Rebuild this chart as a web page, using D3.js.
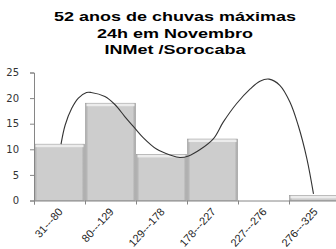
<!DOCTYPE html>
<html>
<head>
<meta charset="utf-8">
<script src="https://cdn.jsdelivr.net/npm/d3@7"></script>
<style>
  body { margin: 0; background: #fff; }
  svg { display: block; }
</style>
</head>
<body>
<div id="chart"></div>
<script>
var width = 336;
var height = 249;

// classes (mm) and frequencies
var categories = ["31---80", "80---129", "129---178", "178---227", "227---276", "276---325"];
var counts = [11, 19, 9, 12, 0, 1];
var yTicks = [0, 5, 10, 15, 20, 25];
var titleLines = ["52 anos de chuvas máximas", "24h em Novembro", "INMet /Sorocaba"];

// smooth curve: position in class units, value
var curveX = [0.53, 0.61, 0.74, 0.87, 1.03, 1.12, 1.39, 1.59, 1.78, 1.98, 2.14, 2.41, 2.67, 2.86, 3.03, 3.25, 3.52, 3.71, 3.97, 4.24, 4.43, 4.61, 4.82, 5.02, 5.18, 5.35, 5.48];
var curveY = [11.0, 14.7, 18.0, 20.0, 21.1, 21.1, 20.3, 18.7, 16.4, 14.1, 12.3, 10.0, 8.9, 8.4, 8.7, 9.9, 12.1, 15.3, 18.9, 21.8, 23.3, 23.7, 22.5, 19.2, 14.7, 8.2, 1.3];

var margin = {top: 72.5, left: 34, right: -4, bottom: 48.5};
var plotW = width - margin.left - margin.right;
var plotH = height - margin.top - margin.bottom;

var svg = d3.select("#chart").append("svg")
  .attr("width", width)
  .attr("height", height);

var defs = svg.append("defs");
var grad = defs.append("linearGradient").attr("id", "barGrad")
  .attr("x1", "0%").attr("x2", "100%").attr("y1", "0%").attr("y2", "0%");
grad.append("stop").attr("offset", "0%").attr("stop-color", "#a9a9a9");
grad.append("stop").attr("offset", "6%").attr("stop-color", "#cdcdcd");
grad.append("stop").attr("offset", "94%").attr("stop-color", "#cdcdcd");
grad.append("stop").attr("offset", "100%").attr("stop-color", "#a4a4a4");

// title (the source picture is stretched sideways)
var title = svg.append("g")
  .attr("transform", "translate(175,0) scale(1.5,1)");
title.selectAll("text")
  .data(titleLines)
  .enter().append("text")
  .attr("x", 0)
  .attr("y", function(d, i) { return 21.5 + i * 16.4; })
  .attr("text-anchor", "middle")
  .style("font-family", "'Liberation Sans', Arial, sans-serif")
  .style("font-weight", "bold")
  .style("font-size", "12px")
  .attr("fill", "#000")
  .text(function(d) { return d; });

var g = svg.append("g")
  .attr("transform", "translate(" + margin.left + "," + margin.top + ")");

var x = d3.scaleBand()
  .domain(categories)
  .range([0, plotW])
  .padding(0);

var xLin = d3.scaleLinear()
  .domain([0, categories.length])
  .range([0, plotW]);

var y = d3.scaleLinear()
  .domain([0, 25])
  .range([plotH, 0]);

// bars
var bars = g.selectAll(".bar")
  .data(counts)
  .enter().append("g")
  .attr("class", "bar");

bars.append("rect")
  .attr("x", function(d, i) { return x(categories[i]) + 0.5; })
  .attr("width", x.bandwidth() - 1)
  .attr("y", function(d) { return y(d); })
  .attr("height", function(d) { return plotH - y(d); })
  .attr("fill", "url(#barGrad)")
  .attr("stroke", "#9a9a9a")
  .attr("stroke-width", 0.6);

// bevel highlight on top of each bar
bars.filter(function(d) { return d > 0; })
  .append("rect")
  .attr("x", function(d) { return x(categories[counts.indexOf(d)]) + 1.5; })
  .attr("width", x.bandwidth() - 3)
  .attr("y", function(d) { return y(d) + 0.5; })
  .attr("height", 2.5)
  .attr("fill", "#ececec");

// y axis
var yAxis = g.append("g")
  .call(d3.axisLeft(y).tickValues(yTicks).tickSize(4).tickPadding(2));
yAxis.select(".domain").attr("stroke", "#868686");
yAxis.selectAll(".tick line").attr("stroke", "#868686");
yAxis.selectAll("text")
  .attr("x", -15)
  .attr("text-anchor", "end")
  .style("font-family", "'DejaVu Sans', Verdana, sans-serif")
  .style("font-size", "10px")
  .attr("fill", "#333");

// x axis
var xAxis = g.append("g")
  .attr("transform", "translate(0," + plotH + ")")
  .call(d3.axisBottom(xLin).tickValues(d3.range(categories.length + 1)).tickSize(4).tickFormat(""));
xAxis.select(".domain").attr("stroke", "#868686");
xAxis.selectAll(".tick line").attr("stroke", "#868686");

g.append("g").selectAll("text")
  .data(categories)
  .enter().append("text")
  .attr("transform", function(d) {
    return "translate(" + (x(d) + x.bandwidth() / 2 + 1) + "," + (plotH + 9) + ") rotate(-48)";
  })
  .attr("text-anchor", "end")
  .attr("dy", "0.35em")
  .style("font-family", "'Liberation Sans', Arial, sans-serif")
  .style("font-size", "11px")
  .attr("fill", "#222")
  .text(function(d) { return d; });

// smooth curve
var pts = curveX.map(function(v, i) { return [v, curveY[i]]; });
var line = d3.line()
  .x(function(d) { return xLin(d[0]); })
  .y(function(d) { return y(d[1]); })
  .curve(d3.curveCatmullRom.alpha(0.5));

g.append("path")
  .datum(pts)
  .attr("d", line)
  .attr("fill", "none")
  .attr("stroke", "#333")
  .attr("stroke-width", 1.1);
</script>
</body>
</html>
